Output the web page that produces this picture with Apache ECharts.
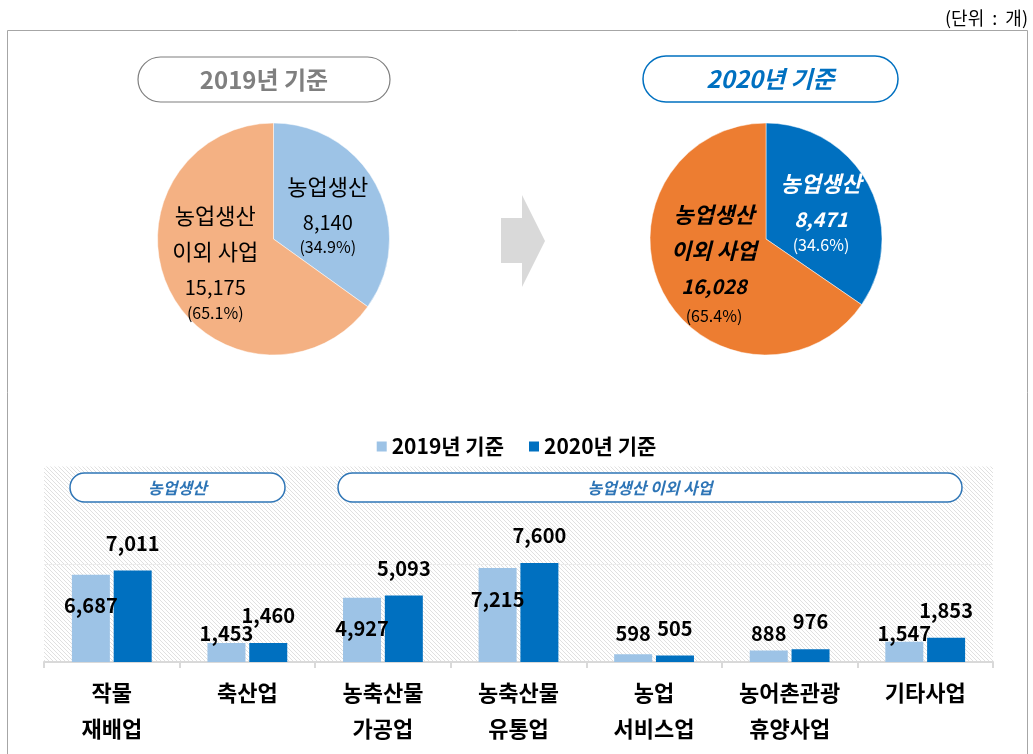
<!DOCTYPE html>
<html>
<head>
<meta charset="utf-8">
<script src="https://cdn.jsdelivr.net/npm/echarts@6/dist/echarts.min.js"></script>
<style>
  html, body { margin: 0; padding: 0; background: #fff; }
  #main { width: 1033px; height: 754px; }
</style>
</head>
<body>
<div id="main"></div>
<script>
// 데이터
var pieNames = ['농업생산', '농업생산\n이외 사업']
var pie2019 = [8140, 15175]
var pie2020 = [8471, 16028]

var seriesNames = ['2019년 기준', '2020년 기준']
var categories = ['작물\n재배업', '축산업', '농축산물\n가공업', '농축산물\n유통업', '농업\n서비스업', '농어촌관광\n휴양사업', '기타사업']
var bars2019 = [6687, 1453, 4927, 7215, 598, 888, 1547]
var bars2020 = [7011, 1460, 5093, 7600, 505, 976, 1853]

var FONT = '"Noto Sans CJK KR", "Noto Sans", sans-serif'

function fmt (v) {
  return v.toLocaleString('en-US')
}

// 빗금 배경 패턴
function hatch () {
  var s = 4
  var c = document.createElement('canvas')
  c.width = s
  c.height = s
  var ctx = c.getContext('2d')
  ctx.fillStyle = '#fff'
  ctx.fillRect(0, 0, s, s)
  ctx.strokeStyle = '#e0e0e0'
  ctx.lineWidth = 1
  ctx.beginPath()
  ctx.moveTo(-1, -1); ctx.lineTo(s + 1, s + 1)
  ctx.moveTo(-1, s - 1); ctx.lineTo(1, s + 1)
  ctx.moveTo(s - 1, -1); ctx.lineTo(s + 1, 1)
  ctx.stroke()
  return { image: c, repeat: 'repeat' }
}

function pieLabel (bold, nameColor, pctH) {
  var w = bold ? 'bold' : 'normal'
  var st = bold ? 'italic' : 'normal'
  return {
    show: true,
    position: 'inside',
    formatter: function (p) {
      var lines = p.name.split('\n').map(function (t) { return '{n|' + t + '}' })
      lines.push('{v|' + fmt(p.value) + '}')
      lines.push('{p|(' + p.percent.toFixed(1) + '%)}')
      return lines.join('\n')
    },
    rich: {
      n: { fontFamily: FONT, fontSize: 22, lineHeight: 36, color: nameColor, fontWeight: w, fontStyle: st },
      v: { fontFamily: FONT, fontSize: 20, lineHeight: 36, color: nameColor, fontWeight: w, fontStyle: st },
      p: { fontFamily: FONT, fontSize: 16, lineHeight: pctH, color: nameColor }
    }
  }
}

function pill (x, y, w, h, stroke, lw, text, font, color) {
  return [{
    type: 'rect',
    shape: { x: x, y: y, width: w, height: h, r: h / 2 },
    style: { fill: '#fff', stroke: stroke, lineWidth: lw },
    z: 10
  }, {
    type: 'text',
    x: x + w / 2,
    y: y + h / 2,
    style: { text: text, font: font, fill: color, align: 'center', verticalAlign: 'middle' },
    z: 11
  }]
}

var chart = echarts.init(document.getElementById('main'))

var graphics = [{
  type: 'rect',
  shape: { x: 7.5, y: 30.5, width: 1020, height: 800 },
  style: { fill: 'none', stroke: '#a6a6a6', lineWidth: 1 },
  silent: true
}, {
  type: 'text',
  x: 1028,
  y: 18,
  style: { text: '(단위  :  개)', font: '18px ' + FONT, fill: '#000', align: 'right', verticalAlign: 'middle' }
}, {
  type: 'polygon',
  shape: { points: [[501, 218], [522, 218], [522, 195], [545, 241], [522, 287], [522, 263], [501, 263]] },
  style: { fill: '#d9d9d9' }
}]
graphics = graphics
  .concat(pill(138, 57, 252, 45, '#7f7f7f', 1.2, '2019년 기준', 'bold 24px ' + FONT, '#7f7f7f'))
  .concat(pill(643, 56, 255, 46, '#0070c0', 1.5, '2020년 기준', 'italic bold 24px ' + FONT, '#0070c0'))
  .concat(pill(70, 473, 215, 29, '#2e75b6', 1.5, '농업생산', 'italic bold 16px ' + FONT, '#2e75b6'))
  .concat(pill(338, 473, 624, 29, '#2e75b6', 1.5, '농업생산 이외 사업', 'italic bold 16px ' + FONT, '#2e75b6'))

chart.setOption({
  animation: false,
  textStyle: { fontFamily: FONT },
  graphic: graphics,
  legend: {
    data: seriesNames,
    top: 431,
    left: 'center',
    icon: 'rect',
    itemWidth: 10,
    itemHeight: 10,
    itemGap: 25,
    textStyle: { fontFamily: FONT, fontSize: 21, fontWeight: 'bold', color: '#000' }
  },
  grid: {
    left: 44,
    right: 40,
    top: 466.5,
    bottom: 92,
    show: true,
    borderWidth: 0,
    backgroundColor: hatch()
  },
  xAxis: {
    type: 'category',
    data: categories,
    axisLine: { lineStyle: { color: '#d9d9d9', width: 2 } },
    axisTick: { show: true, length: 6, lineStyle: { color: '#d9d9d9', width: 2 } },
    axisLabel: {
      interval: 0,
      margin: 13,
      fontFamily: FONT,
      fontSize: 22,
      fontWeight: 'bold',
      lineHeight: 36,
      color: '#000'
    }
  },
  yAxis: {
    type: 'value',
    min: 0,
    max: 15000,
    interval: 7500,
    axisLabel: { show: false },
    axisLine: { show: false },
    axisTick: { show: false },
    splitLine: { show: true, showMaxLine: false, lineStyle: { color: '#ececec', width: 1 } }
  },
  series: [{
    type: 'pie',
    center: [273.5, 239],
    radius: 116,
    silent: true,
    startAngle: 90,
    label: pieLabel(false, '#000', 14),
    labelLine: { show: false },
    itemStyle: { borderColor: '#fff', borderWidth: 0.5 },
    data: [
      { name: pieNames[0], value: pie2019[0], itemStyle: { color: '#9dc3e6' } },
      { name: pieNames[1], value: pie2019[1], itemStyle: { color: '#f4b183' }, label: { offset: [-4, -8] } }
    ]
  }, {
    type: 'pie',
    center: [766, 239],
    radius: 116,
    silent: true,
    startAngle: 90,
    label: pieLabel(true, '#000', 24),
    labelLine: { show: false },
    itemStyle: { borderColor: '#fff', borderWidth: 0.5 },
    data: [
      {
        name: pieNames[0], value: pie2020[0], itemStyle: { color: '#0070c0' },
        label: Object.assign(pieLabel(true, '#fff', 14), { offset: [1, -2] })
      },
      { name: pieNames[1], value: pie2020[1], itemStyle: { color: '#ed7d31' }, label: { offset: [2, -5] } }
    ]
  }, {
    name: seriesNames[0],
    type: 'bar',
    barWidth: 38,
    barGap: '10%',
    itemStyle: { color: '#9dc3e6' },
    label: {
      show: true,
      position: 'top',
      distance: 0,
      verticalAlign: 'middle',
      fontFamily: FONT,
      fontSize: 20,
      fontWeight: 'bold',
      color: '#000',
      formatter: function (p) { return fmt(p.value) }
    },
    data: bars2019
  }, {
    name: seriesNames[1],
    type: 'bar',
    barWidth: 38,
    itemStyle: { color: '#0070c0' },
    label: {
      show: true,
      position: 'top',
      distance: 0,
      verticalAlign: 'middle',
      offset: [0, -27.5],
      fontFamily: FONT,
      fontSize: 20,
      fontWeight: 'bold',
      color: '#000',
      formatter: function (p) { return fmt(p.value) }
    },
    data: bars2020
  }]
})

// 2019 라벨 위치: 막대 안쪽 상단, 낮은 막대는 막대 위
var baseY = chart.convertToPixel({ gridIndex: 0 }, [0, 0])[1]
var data2019 = bars2019.map(function (v, i) {
  var top = chart.convertToPixel({ gridIndex: 0 }, [i, v])[1]
  var h = baseY - top
  return { value: v, label: { offset: [0, Math.min(31, h - 29)] } }
})
chart.setOption({
  series: [{}, {}, { data: data2019 }, {}]
})
</script>
</body>
</html>
